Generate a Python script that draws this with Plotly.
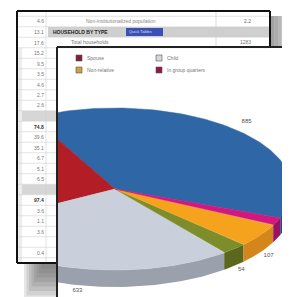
import numpy as np
import plotly.graph_objects as go

# ---------------- data ----------------
categories = ["Householder", "Spouse", "Child", "Other relative", "Non-relative", "In group quarters"]
values = [885, 580, 633, 54, 107, 36]
value_labels = ["885", "", "633", "54", "107", "36"]
top_colors = ["#2f66a6", "#b21d26", "#c9d0db", "#7d8d2b", "#f5a21c", "#d2187e"]
side_colors = ["#1d4a82", "#7f1219", "#9aa1ac", "#5b671c", "#d4861a", "#9c1060"]

legend_names = ["Spouse", "Non-relative", "Child", "In group quarters"]
legend_colors = ["#7e2038", "#cfa042", "#d4d8de", "#8e1848"]

sheet_numbers = ["4.6", "13.1", "17.6", "15.2", "9.5", "3.5", "4.6", "2.7", "2.6", "",
                 "74.8", "39.6", "35.1", "6.7", "5.1", "6.5", "", "97.4", "3.6", "1.1",
                 "3.6", "", "0.4"]
bold_rows = [10, 17]
gray_rows = [9, 16]
sheet_text = ["Non-institutionalized population", "HOUSEHOLD BY TYPE", "Total households"]
sheet_values = ["2.2", "", "1283"]

# ---------------- geometry helpers ----------------
W, H = 290, 297
L, T, B = 49, 39, 6           # front panel = plot area
PW, PH = W - L, H - T - B


def px(x):
    return (x - L) / PW


def py(y):
    return (H - B - y) / PH


fig = go.Figure()

# ---------------- 3D-looking pie ----------------
cx, cy, a, b, depth = 107, 181, 177, 81, 17
start = -21.0
tot = float(sum(values))
bounds = start + 360.0 * np.cumsum([0] + values) / tot


def pt(theta_deg):
    t = np.radians(theta_deg)
    return cx + a * np.cos(t), cy - b * np.sin(t)


# side walls (front half only)
for i in range(len(values)):
    t0, t1 = bounds[i], bounds[i + 1]
    for lo, hi in [(-180, 0), (180, 360)]:
        s, e = max(t0, lo), min(t1, hi)
        if e <= s:
            continue
        th = np.linspace(s, e, 80)
        xs, ys = pt(th)
        X = np.concatenate([xs, xs[::-1]])
        Y = np.concatenate([ys, (ys + depth)[::-1]])
        fig.add_trace(go.Scatter(x=X, y=Y, fill="toself", mode="lines",
                                 line=dict(width=0, color=side_colors[i]),
                                 fillcolor=side_colors[i], hoverinfo="skip",
                                 showlegend=False))

# top surfaces
for i in range(len(values)):
    th = np.linspace(bounds[i], bounds[i + 1], 120)
    xs, ys = pt(th)
    X = np.concatenate([[cx], xs, [cx]])
    Y = np.concatenate([[cy], ys, [cy]])
    fig.add_trace(go.Scatter(x=X, y=Y, fill="toself", mode="lines",
                             line=dict(width=0.5, color=top_colors[i]),
                             fillcolor=top_colors[i], hoverinfo="skip",
                             name=categories[i], showlegend=False))

# value labels
lx, ly, lt = [], [], []
for i, lab in enumerate(value_labels):
    if not lab:
        continue
    mid = (bounds[i] + bounds[i + 1]) / 2
    t = np.radians(mid)
    f = 1.12 if np.sin(t) > 0 else 1.06
    x = cx + a * f * np.cos(t)
    y = cy - b * f * np.sin(t)
    if np.sin(t) < 0:
        y += depth
    lx.append(min(x, 282)); ly.append(min(y, 286)); lt.append(lab)
fig.add_trace(go.Scatter(x=lx, y=ly, text=lt, mode="text",
                         textfont=dict(size=6, color="#555", family="Arial"),
                         hoverinfo="skip", showlegend=False, cliponaxis=False))

shapes = []
ann = []


def rect(x0, y0, x1, y1, fill, line_w=0, line_c=None, opacity=1.0):
    shapes.append(dict(type="rect", xref="paper", yref="paper",
                       x0=px(x0), x1=px(x1), y0=py(y0), y1=py(y1),
                       fillcolor=fill, opacity=opacity,
                       line=dict(width=line_w, color=line_c or fill), layer="above"))


def line(x0, y0, x1, y1, color, w):
    shapes.append(dict(type="line", xref="paper", yref="paper",
                       x0=px(x0), x1=px(x1), y0=py(y0), y1=py(y1),
                       line=dict(color=color, width=w), layer="above"))


def text(x, y, s, size=5, color="#666", anchor="left", bold=False, bg=None):
    ann.append(dict(xref="paper", yref="paper", x=px(x), y=py(y), text=("<b>%s</b>" % s) if bold else s,
                    showarrow=False, xanchor=anchor, yanchor="middle",
                    font=dict(size=size, color=color, family="Arial"),
                    bgcolor=bg, borderpad=0))


# ---------------- back sheet (visible parts only) ----------------
rect(9, 3, 49, 255, "white")
rect(49, 3, 262, 39, "white")
# gray band rows
rect(40, 19, 262, 29, "#cfcfcf")
row0, rh = 13.5, 10.5
for r in gray_rows:
    yc = row0 + r * rh
    rect(10, yc - 5, 48, yc + 5, "#d6d6d6")
# light left strip
rect(10, 40, 14, 254, "#ececec")
# row lines
for k in range(24):
    y = row0 - rh / 2 + k * rh
    if y < 40:
        line(9, y, 262, y, "#d0d0d0", 0.6)
    elif y < 255:
        line(9, y, 49, y, "#d0d0d0", 0.6)
line(38, 3, 38, 254, "#d0d0d0", 0.6)
line(208, 3, 208, 39, "#c8c8c8", 0.6)
# numbers in first column
for k, s in enumerate(sheet_numbers):
    if not s:
        continue
    yc = row0 + k * rh
    rb = k in bold_rows
    text(37, yc, s, size=5, color="#333" if rb else "#777", anchor="right", bold=rb)
# texts in top rows
text(77, 13.5, sheet_text[0], size=5, color="#888")
text(244, 13.5, sheet_values[0], size=5, color="#666", anchor="right")
text(44, 24, sheet_text[1], size=5, color="#222", bold=True)
rect(118, 20, 155, 28, "#3c50b4")
text(120, 24, "Quick Tables", size=4, color="#dde")
text(62, 34, sheet_text[2], size=5, color="#777")
text(244, 34, sheet_values[2], size=5, color="#777", anchor="right")
# back sheet borders
line(9, 3, 262, 3, "#111", 2)
line(262, 3, 262, 39, "#111", 2)
line(9, 3, 9, 255, "#111", 2)
line(9, 255, 49, 255, "#111", 2)
# shadow right of back sheet
for k in range(8):
    rect(263 + k * 3.5, 8, 266.5 + k * 3.5, 38, "#555", opacity=0.55 * (1 - k / 8))
# shadow below back sheet
for k in range(8):
    rect(16 + k * 2.5, 256, 49, 256 + (8 - k) * 4.5, "#666", opacity=0.16)

# ---------------- front panel frame ----------------
line(49, 39, 290, 39, "#222", 2)
line(49, 39, 49, 291, "#222", 2)
line(49, 291, 290, 291, "#333", 2)
for k in range(6):
    rect(26 + k * 3, 292, 290, 292 + (6 - k), "#555", opacity=0.3)

# ---------------- legend ----------------
leg_pos = [(71, 50), (71, 62), (151, 50), (151, 62)]
for (x, y), nm, c in zip(leg_pos, legend_names, legend_colors):
    shapes.append(dict(type="rect", xref="x", yref="y", x0=x - 3, x1=x + 3, y0=y - 3, y1=y + 3,
                       fillcolor=c, line=dict(width=0.6, color="#555"), layer="above"))
    ann.append(dict(xref="x", yref="y", x=x + 6, y=y, text=nm, showarrow=False,
                    xanchor="left", yanchor="middle",
                    font=dict(size=5, color="#777", family="Arial")))

fig.update_layout(
    width=W, height=H,
    margin=dict(l=L, r=0, t=T, b=B, autoexpand=False),
    paper_bgcolor="white", plot_bgcolor="white",
    xaxis=dict(range=[L, W], visible=False, fixedrange=True),
    yaxis=dict(range=[H - B, T], visible=False, fixedrange=True),
    shapes=shapes, annotations=ann, showlegend=False,
)

fig.write_html("out.html")
